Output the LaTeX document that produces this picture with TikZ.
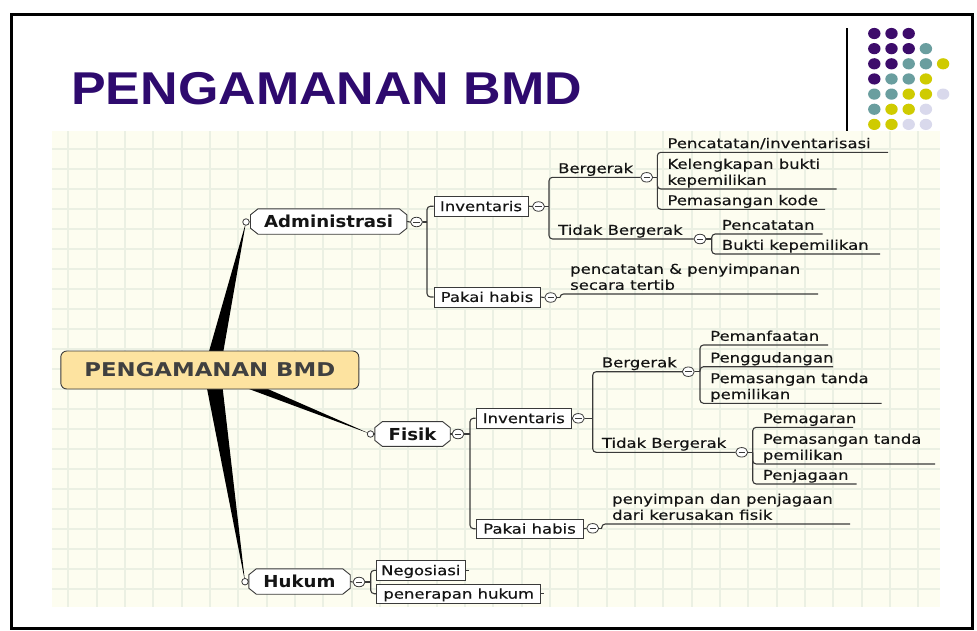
\documentclass[tikz,border=0pt]{standalone}
\usepackage{fontspec}
\usetikzlibrary{calc,shapes.geometric}
\setmainfont{DejaVu Sans}
\newfontfamily\mmfont[FakeStretch=1.22,FakeBold=0.35]{DejaVu Sans}
\newfontfamily\mmheadfont[FakeStretch=1.1]{DejaVu Sans Bold}
\newfontfamily\hubfont[FakeStretch=1.2]{DejaVu Sans Bold}
\newfontfamily\titlefont[FakeStretch=1.13]{Liberation Sans Bold}

\definecolor{ink}{HTML}{141414}
\definecolor{wire}{HTML}{3A3A3A}
\definecolor{paper}{HTML}{FDFDF0}
\definecolor{gridline}{HTML}{EBF0E3}
\definecolor{hubfill}{HTML}{FDE3A0}
\definecolor{titlepurple}{HTML}{2E0A6E}
\definecolor{dotpurple}{HTML}{3D0C6B}
\definecolor{dotteal}{HTML}{6A9E9F}
\definecolor{dotyellow}{HTML}{CFCB00}
\definecolor{dotlilac}{HTML}{D9D9EC}

\pgfdeclarelayer{paperlayer}
\pgfdeclarelayer{shapes}
\pgfsetlayers{paperlayer,shapes,main}

\tikzset{
  conn/.style={draw=wire, line width=1.1pt, rounded corners=3.5pt},
  leaf/.style={anchor=south west, inner sep=0pt, text depth=0pt, align=left,
    text=ink, font=\mmfont\fontsize{13.5}{16}\selectfont},
  box/.style={draw=wire, fill=white, line width=0.9pt, inner sep=0pt,
    minimum height=20pt, text=ink, text height=9.8pt, text depth=0pt,
    font=\mmfont\fontsize{13.5}{16}\selectfont},
  head/.style={inner sep=0pt, text=ink, text height=12pt, text depth=0pt,
    font=\mmheadfont\fontsize{16.5}{18}\selectfont},
  octline/.style={draw=wire, fill=white, line width=0.9pt},
  hubbox/.style={draw=wire, fill=hubfill, rounded corners=6pt, line width=0.9pt,
    minimum width=298pt, minimum height=38pt, inner sep=0pt,
    text=black!75, text height=13.9pt, text depth=0pt,
    font=\hubfont\fontsize{19}{22}\selectfont},
  pin/.style={circle, draw=wire, fill=white, line width=0.8pt,
    minimum size=6.5pt, inner sep=0pt},
  minus/.style={ellipse, draw=wire, fill=white, line width=0.8pt,
    minimum width=12pt, minimum height=9.5pt, inner sep=0pt,
    path picture={\draw[wire, line width=1pt]
      ([xshift=-3.2pt]path picture bounding box.center) --
      ([xshift=3.2pt]path picture bounding box.center);}},
  wedge/.style={fill=black},
}

% chamfered frame around a main-branch node
\newcommand\octframe[1]{%
  \filldraw[octline] ([xshift=7.5pt]#1.north west) -- ([xshift=-7.5pt]#1.north east)
    -- ([yshift=-6pt]#1.north east) -- ([yshift=6pt]#1.south east)
    -- ([xshift=-7.5pt]#1.south east) -- ([xshift=7.5pt]#1.south west)
    -- ([yshift=6pt]#1.south west) -- ([yshift=-6pt]#1.north west) -- cycle;}

\begin{document}
\begin{tikzpicture}[x=1pt,y=-1pt]
\useasboundingbox (0,0) rectangle (977,630);

% page and squared paper behind the map
\begin{pgfonlayer}{paperlayer}
  \fill[white] (0,0) rectangle (977,630);
  \fill[paper] (52,131) rectangle (940,607);
  \begin{scope}
    \clip (52,131) rectangle (940,607);
    \foreach \i in {0,...,30}
      \draw[gridline, line width=2pt] ({68.3+28.33*\i},131) -- ++(0,476);
    \foreach \j in {-1,...,22}
      \draw[gridline, line width=2pt] (52,{149.3+20*\j}) -- ++(888,0);
  \end{scope}
\end{pgfonlayer}

% slide frame
\draw[line width=3pt] (11.2,14.7) rectangle (972.3,628.7);

% title
\node[anchor=base west, inner sep=0pt, text=titlepurple,
  font=\titlefont\fontsize{46}{50}\selectfont] (title) at (71,104) {PENGAMANAN BMD};

% decorative dots and divider
\draw[line width=1.6pt] (847,28) -- (847,131);
\foreach \row/\colorlist in {
  0/{dotpurple,dotpurple,dotpurple},
  1/{dotpurple,dotpurple,dotpurple,dotteal},
  2/{dotpurple,dotpurple,dotteal,dotteal,dotyellow},
  3/{dotpurple,dotteal,dotteal,dotyellow},
  4/{dotteal,dotteal,dotyellow,dotyellow,dotlilac},
  5/{dotteal,dotyellow,dotyellow,dotlilac},
  6/{dotyellow,dotyellow,dotlilac,dotlilac}} {
  \foreach \col [count=\ci from 0] in \colorlist {
    \fill[\col] ({874.3+17.2*\ci},{33.5+15.15*\row}) ellipse [x radius=6.2, y radius=5.6];
  }
}

% central topic
\node[hubbox] (hub) at (209.8,370) {PENGAMANAN BMD};
\coordinate (root) at (212,370);

% main branches
\node[head, minimum width=156pt, minimum height=25pt] (adm) at (328.7,221.5) {Administrasi};
\node[head, minimum width=75pt, minimum height=24.3pt] (fis) at (412.5,434) {Fisik};
\node[head, minimum width=101pt, minimum height=25pt] (huk) at (299.5,581.5) {Hukum};
\node[pin] (adm-pin) at (246,222) {};
\node[pin] (fis-pin) at (370.5,434) {};
\node[pin] (huk-pin) at (245,581.7) {};

\begin{pgfonlayer}{shapes}
  \fill[wedge] ($(root)!8pt!90:(adm-pin.center)$) -- (adm-pin.center)
    -- ($(root)!8pt!-90:(adm-pin.center)$) -- cycle;
  \fill[wedge] ($(root)!5pt!90:(fis-pin.center)$) -- (fis-pin.center)
    -- ($(root)!5pt!-90:(fis-pin.center)$) -- cycle;
  \fill[wedge] ($(root)!8.5pt!90:(huk-pin.center)$) -- (huk-pin.center)
    -- ($(root)!8.5pt!-90:(huk-pin.center)$) -- cycle;
  \octframe{adm}
  \octframe{fis}
  \octframe{huk}
\end{pgfonlayer}
\draw[conn] (adm-pin.east) -- (adm.west);
\draw[conn] (fis-pin.east) -- (fis.west);
\draw[conn] (huk-pin.east) -- (huk.west);

% ---------- Administrasi ----------
\node[minus] (adm-m) at (416.5,222) {};
\draw[conn] (adm.east) -- (adm-m.west);
\coordinate (adm-j) at (427,222);
\node[box, minimum width=94pt] (adm-inv) at (481,206.2) {Inventaris};
\node[box, minimum width=106pt] (adm-pak) at (487,297) {Pakai habis};
\draw[conn] (adm-m.east) -- (adm-j);
\draw[conn] (adm-j) |- (adm-inv.west);
\draw[conn] (adm-j) |- (adm-pak.west);
\node[minus] (adm-inv-m) at (538.5,206.5) {};
\node[minus] (adm-pak-m) at (550.7,297.5) {};
\draw[conn] (adm-inv.east) -- (adm-inv-m.west);
\draw[conn] (adm-pak.east) -- (adm-pak-m.west);

\coordinate (ai-j) at (549,206.5);
\draw[conn] (adm-inv-m.east) -- (ai-j);
\node[leaf] (ai-b) at (558,173.3) {Bergerak};
\node[minus] (ai-b-m) at (646.7,177.3) {};
\draw[conn] (ai-j) |- (ai-b-m.west);
\node[leaf] (ai-t) at (558,235) {Tidak Bergerak};
\node[minus] (ai-t-m) at (700,239) {};
\draw[conn] (ai-j) |- (ai-t-m.west);

\coordinate (aib-j) at (657.3,177.3);
\draw[conn] (ai-b-m.east) -- (aib-j);
\node[leaf] (aib1) at (667.3,148.3) {Pencatatan/inventarisasi};
\coordinate (aib1-e) at (888,152.3);
\draw[conn] (aib-j) |- (aib1-e);
\node[leaf] (aib2) at (667.3,185) {Kelengkapan bukti\\kepemilikan};
\coordinate (aib2-e) at (836.7,189);
\draw[conn] (aib-j) |- (aib2-e);
\node[leaf] (aib3) at (667.3,205.3) {Pemasangan kode};
\coordinate (aib3-e) at (825,209.3);
\draw[conn] (aib-j) |- (aib3-e);

\coordinate (ait-j) at (711.7,239);
\draw[conn] (ai-t-m.east) -- (ait-j);
\node[leaf] (ait1) at (721.7,230) {Pencatatan};
\coordinate (ait1-e) at (822.7,234);
\draw[conn] (ait-j) |- (ait1-e);
\node[leaf] (ait2) at (721.7,250) {Bukti kepemilikan};
\coordinate (ait2-e) at (880,254);
\draw[conn] (ait-j) |- (ait2-e);

\coordinate (ap-j) at (560,297.5);
\draw[conn] (adm-pak-m.east) -- (ap-j);
\node[leaf] (ap1) at (570,290) {pencatatan \& penyimpanan\\secara tertib};
\coordinate (ap1-e) at (818,294);
\draw[conn] (ap-j) |- (ap1-e);

% ---------- Fisik ----------
\node[minus] (fis-m) at (458,434) {};
\draw[conn] (fis.east) -- (fis-m.west);
\coordinate (fis-j) at (470,434);
\draw[conn] (fis-m.east) -- (fis-j);
\node[box, minimum width=95.7pt] (fis-inv) at (523.8,418.2) {Inventaris};
\node[box, minimum width=107pt, minimum height=19pt] (fis-pak) at (529.5,528.7) {Pakai habis};
\draw[conn] (fis-j) |- (fis-inv.west);
\draw[conn] (fis-j) |- (fis-pak.west);
\node[minus] (fis-inv-m) at (578.3,418.3) {};
\node[minus] (fis-pak-m) at (592.7,528.3) {};
\draw[conn] (fis-inv.east) -- (fis-inv-m.west);
\draw[conn] (fis-pak.east) -- (fis-pak-m.west);

\coordinate (fi-j) at (592.7,418.3);
\draw[conn] (fis-inv-m.east) -- (fi-j);
\node[leaf] (fi-b) at (601.7,367.5) {Bergerak};
\node[minus] (fi-b-m) at (688.3,371.7) {};
\draw[conn] (fi-j) |- (fi-b-m.west);
\node[leaf] (fi-t) at (601.7,448) {Tidak Bergerak};
\node[minus] (fi-t-m) at (741.7,452.3) {};
\draw[conn] (fi-j) |- (fi-t-m.west);

\coordinate (fib-j) at (700,371.7);
\draw[conn] (fi-b-m.east) -- (fib-j);
\node[leaf] (fib1) at (710,341) {Pemanfaatan};
\coordinate (fib1-e) at (828,345);
\draw[conn] (fib-j) |- (fib1-e);
\node[leaf] (fib2) at (710,362.7) {Penggudangan};
\coordinate (fib2-e) at (833,366.7);
\draw[conn] (fib-j) |- (fib2-e);
\node[leaf] (fib3) at (710,399.3) {Pemasangan tanda\\pemilikan};
\coordinate (fib3-e) at (881.7,403.3);
\draw[conn] (fib-j) |- (fib3-e);

\coordinate (fit-j) at (752.7,452.3);
\draw[conn] (fi-t-m.east) -- (fit-j);
\node[leaf] (fit1) at (762.7,423.3) {Pemagaran};
\coordinate (fit1-e) at (853,427.3);
\draw[conn] (fit-j) |- (fit1-e);
\node[leaf] (fit2) at (762.7,460) {Pemasangan tanda\\pemilikan};
\coordinate (fit2-e) at (935,464);
\draw[conn] (fit-j) |- (fit2-e);
\node[leaf] (fit3) at (762.7,480) {Penjagaan};
\coordinate (fit3-e) at (856.7,484);
\draw[conn] (fit-j) |- (fit3-e);

\coordinate (fp-j) at (601.7,528.3);
\draw[conn] (fis-pak-m.east) -- (fp-j);
\node[leaf] (fp1) at (612,520) {penyimpan dan penjagaan\\dari kerusakan fisik};
\coordinate (fp1-e) at (850,524);
\draw[conn] (fp-j) |- (fp1-e);

% ---------- Hukum ----------
\node[minus] (huk-m) at (359,582) {};
\draw[conn] (huk.east) -- (huk-m.west);
\coordinate (huk-j) at (370.7,582);
\draw[conn] (huk-m.east) -- (huk-j);
\node[box, minimum width=88.3pt, minimum height=19.3pt] (huk-neg) at (420.8,570.3) {Negosiasi};
\node[box, minimum width=164pt, minimum height=19.3pt] (huk-pen) at (458.7,593.7) {penerapan hukum};
\draw[conn] (huk-j) |- (huk-neg.west);
\draw[conn] (huk-j) |- (huk-pen.west);
\coordinate (huk-neg-s) at (468.5,570.3);
\coordinate (huk-pen-s) at (544.2,593.7);
\draw[conn] (huk-neg.east) -- (huk-neg-s);
\draw[conn] (huk-pen.east) -- (huk-pen-s);
\end{tikzpicture}
\end{document}
